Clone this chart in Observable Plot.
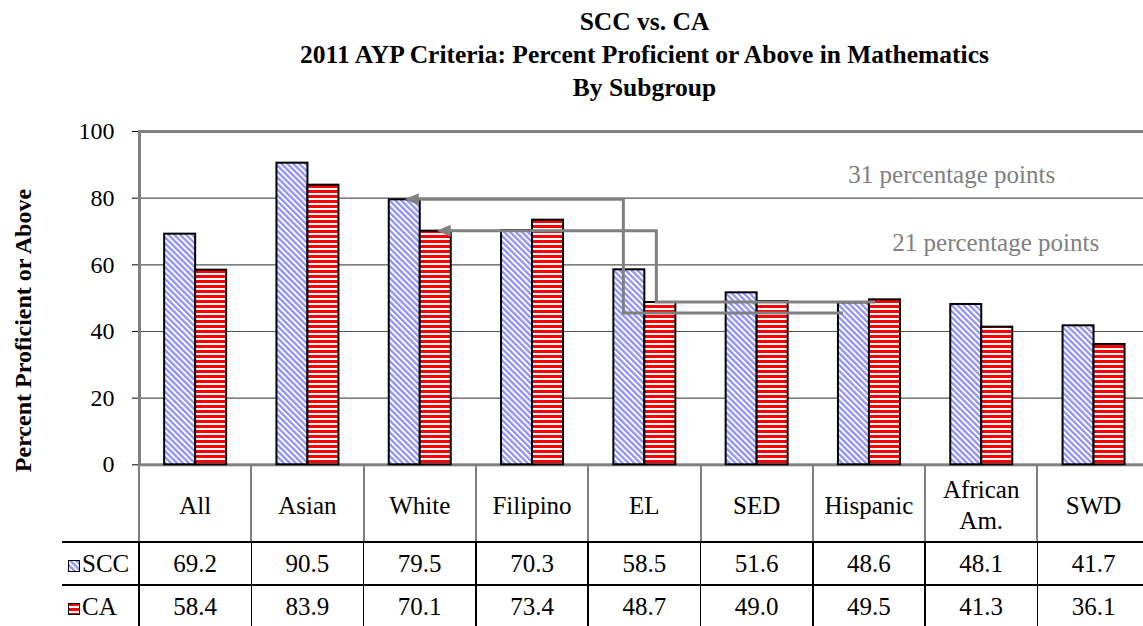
<!DOCTYPE html>
<html><head><meta charset="utf-8">
<script src="https://cdn.jsdelivr.net/npm/d3@7"></script>
<script src="https://cdn.jsdelivr.net/npm/@observablehq/plot@0.6"></script>
<style>
html,body{margin:0;padding:0;background:#fff;}
body{width:1143px;height:626px;overflow:hidden;position:relative;font-family:"Liberation Serif","Times New Roman",serif;color:#000;}
#title{position:absolute;left:146px;width:997px;top:5px;text-align:center;font-weight:bold;font-size:25.5px;line-height:33px;}
#chart{position:absolute;left:0;top:100px;}
#chart svg text{font-family:"Liberation Serif","Times New Roman",serif;}
.cell{position:absolute;display:flex;align-items:center;justify-content:center;text-align:center;font-size:25px;line-height:31px;}
.line{position:absolute;}
</style></head>
<body>
<div id="title">SCC vs. CA<br>2011 AYP Criteria: Percent Proficient or Above in Mathematics<br>By Subgroup</div>
<div id="chart"></div>
<div id="table"></div>
<script>
// ---- data ----
const categories = ["All", "Asian", "White", "Filipino", "EL", "SED", "Hispanic", "African Am.", "SWD"];
const sccValues = [69.2, 90.5, 79.5, 70.3, 58.5, 51.6, 48.6, 48.1, 41.7];
const caValues  = [58.4, 83.9, 70.1, 73.4, 48.7, 49.0, 49.5, 41.3, 36.1];
const seriesNames = ["SCC", "CA"];
const yTicks = [0, 20, 40, 60, 80, 100];
const gridValues = [20, 40, 60, 80];
const yLabel = "Percent Proficient or Above";
const gapLabels = ["31 percentage points", "21 percentage points"];
const gapLabelCats = ["African Am.", "African Am."];
const gapLabelValues = [86.8, 66.4];
const gap31Path = [["Hispanic", 45.4], ["EL", 45.4], ["EL", 79.5], ["White", 79.5]];
const gap21Path = [["Hispanic", 48.7], ["EL", 48.7], ["EL", 70.1], ["White", 70.1]];

// ---- layout ----
const W = 1143, H = 384, mL = 139, mT = 31, mB = 19.7, mR = -6.7;
const step = (W - mR - mL) / categories.length;
const barW = 31;
const inset = (step - barW) / 2;
const FONT = '"Liberation Serif","Times New Roman",serif';

const data = categories.map((c, i) => ({cat: c, scc: sccValues[i], ca: caValues[i]}));

function arrowsMark(index, scales) {
  const X = scales.x, Y = scales.y;
  const bw = typeof X.bandwidth === "function" ? X.bandwidth() : step;
  const g = d3.create("svg:g");
  const specs = [
    {path: gap31Path, off: [-26, -21, -21, -15]},
    {path: gap21Path, off: [6, 12, 12, 17]}
  ];
  for (const s of specs) {
    const pts = s.path.map(([c, v], i) => [X(c) + bw / 2 + s.off[i], Y(v)]);
    const [tx, ty] = pts[pts.length - 1];
    const linePts = pts.slice(0, -1).concat([[tx + 11, ty]]);
    g.append("path").attr("d", d3.line()(linePts)).attr("fill", "none")
      .attr("stroke", "#808080").attr("stroke-width", 3);
    g.append("path").attr("d", `M${tx},${ty}L${tx + 14},${ty - 6}L${tx + 14},${ty + 6}Z`)
      .attr("fill", "#808080");
  }
  return g.node();
}

const chart = Plot.plot({
  width: W, height: H,
  marginLeft: mL, marginRight: mR, marginTop: mT, marginBottom: mB,
  style: {fontFamily: FONT, fontSize: "24px", background: "transparent", color: "#000"},
  x: {type: "band", domain: categories, padding: 0, round: false, axis: null},
  y: {domain: [0, 100], ticks: yTicks, tickSize: 7, tickPadding: 18, label: null},
  marks: [
    Plot.ruleY(gridValues, {stroke: "#555555", strokeWidth: 1.2}),
    Plot.frame({stroke: "#808080", strokeWidth: 3}),
    Plot.barY(data, {x: "cat", y: "scc", fill: "url(#pScc)", stroke: "#000", strokeWidth: 2,
      insetLeft: inset, insetRight: inset, dx: -barW / 2}),
    Plot.barY(data, {x: "cat", y: "ca", fill: "url(#pCa)", stroke: "#000", strokeWidth: 2,
      insetLeft: inset, insetRight: inset, dx: barW / 2}),
    arrowsMark,
    Plot.text([{cat: gapLabelCats[0], v: gapLabelValues[0], t: gapLabels[0]}],
      {x: "cat", y: "v", text: "t", dx: -30, fill: "#808080", fontSize: 25}),
    Plot.text([{cat: gapLabelCats[1], v: gapLabelValues[1], t: gapLabels[1]}],
      {x: "cat", y: "v", text: "t", dx: 14, fill: "#808080", fontSize: 25}),
    Plot.text([yLabel], {text: d => d, frameAnchor: "left", textAnchor: "middle", rotate: -90,
      dx: -116, dy: 32.4, fontWeight: "bold", fontSize: 24})
  ]
});

// patterns
const defs = d3.select(chart).insert("defs", ":first-child");
const p1 = defs.append("pattern").attr("id", "pScc").attr("patternUnits", "userSpaceOnUse")
  .attr("width", 4.2).attr("height", 4.2).attr("patternTransform", "rotate(-45)");
p1.append("rect").attr("width", 4.2).attr("height", 4.2).attr("fill", "#fff");
p1.append("rect").attr("width", 2.3).attr("height", 4.2).attr("fill", "#9090ff");
const p2 = defs.append("pattern").attr("id", "pCa").attr("patternUnits", "userSpaceOnUse")
  .attr("width", 8).attr("height", 5);
p2.append("rect").attr("width", 8).attr("height", 5).attr("fill", "#fff");
p2.append("rect").attr("width", 8).attr("height", 3).attr("fill", "#ff0000");

document.getElementById("chart").appendChild(chart);

// ---- data table below the chart ----
const tbl = document.getElementById("table");
function add(cls, css, html) {
  const d = document.createElement("div");
  d.className = cls;
  Object.assign(d.style, css);
  if (html != null) d.innerHTML = html;
  tbl.appendChild(d);
  return d;
}
const top0 = 465, r1 = 542, r2 = 585, r3 = 628, tblLeft = 62, right = W - mR;
const rows = [sccValues, caValues];
const rowTops = [r1, r2];
const rowH = [r2 - r1, r3 - r2];
categories.forEach((c, i) => {
  const left = mL + i * step;
  add("cell", {left: left + "px", top: top0 + "px", width: step + "px", height: (r1 - top0) + "px", paddingTop: "3px", boxSizing: "border-box"}, c);
  rows.forEach((vals, k) => {
    add("cell", {left: left + "px", top: rowTops[k] + "px", width: step + "px", height: rowH[k] + "px"}, vals[i].toFixed(1));
  });
});
for (let i = 0; i <= categories.length; i++) {
  const x = mL + i * step;
  add("line", {left: (x - 1) + "px", top: top0 + "px", width: "2px", height: (r1 - top0) + "px", background: "#808080"});
  add("line", {left: (x - 0.75) + "px", top: r1 + "px", width: "1.5px", height: (r3 - r1) + "px", background: "#000"});
}
[r1, r2].forEach(y => add("line", {left: tblLeft + "px", top: (y - 0.75) + "px", width: (right - tblLeft) + "px", height: "1.5px", background: "#000"}));
const keyFills = ["url(#pScc)", "url(#pCa)"];
seriesNames.forEach((s, k) => {
  const cy = rowTops[k] + rowH[k] / 2;
  add("line", {left: "68px", top: (cy - 6) + "px", width: "12px", height: "12px"},
    `<svg width="12" height="12"><rect x="0.5" y="0.5" width="11" height="11" fill="${keyFills[k]}" stroke="#000" stroke-width="1"/></svg>`);
  add("cell", {left: "82px", top: rowTops[k] + "px", height: rowH[k] + "px", justifyContent: "flex-start"}, s);
});
</script>
</body></html>
